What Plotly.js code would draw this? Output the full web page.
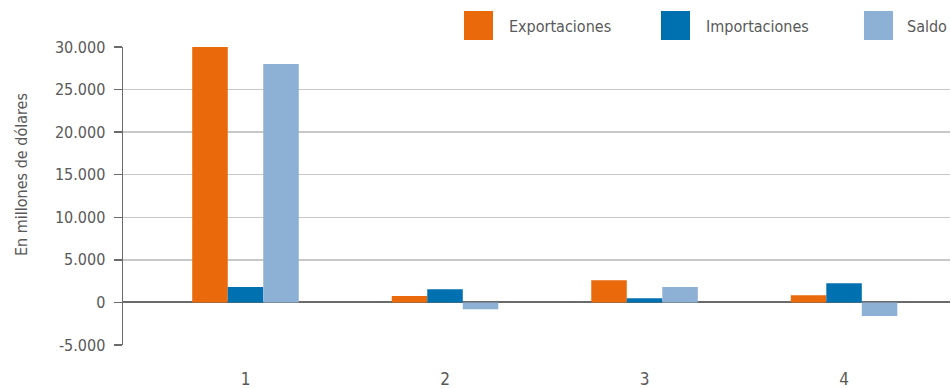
<!DOCTYPE html>
<html>
<head>
<meta charset="utf-8">
<script src="https://cdn.plot.ly/plotly-3.0.1.min.js"></script>
<style>html,body{margin:0;padding:0;background:#fff;}#chart{width:951px;height:388px;}</style>
</head>
<body>
<div id="chart"></div>
<script>
const categories = [1, 2, 3, 4];
const tickLabels = ['1', '2', '3', '4'];
const exportaciones = [30000, 750, 2600, 850];
const importaciones = [1800, 1550, 500, 2250];
const saldo = [28000, -800, 1800, -1600];
const seriesNames = ['Exportaciones', 'Importaciones', 'Saldo'];
const seriesColors = ['#EA690B', '#0071B0', '#8DB0D5'];
const yTitle = 'En millones de dólares';

const W = 951, H = 388;
const M = {l: 123, r: 1, t: 47, b: 43};
const FONT = 'Liberation Sans Narrow, DejaVu Sans Condensed, Arial Narrow, sans-serif';
const TXT = '#595959';

const px = x => (x - M.l) / (W - M.l - M.r);
const py = y => (H - M.b - y) / (H - M.t - M.b);

const traces = [exportaciones, importaciones, saldo].map((vals, i) => ({
  type: 'bar',
  x: categories,
  y: vals,
  name: seriesNames[i],
  marker: {color: seriesColors[i], line: {width: 0}},
  showlegend: false,
  hoverinfo: 'x+y+name'
}));

// Manual legend (large squares)
const legendItems = [
  {sq: 464, tx: 507},
  {sq: 661, tx: 704},
  {sq: 864, tx: 905}
];
const shapes = [];
const annotations = [];
legendItems.forEach((it, i) => {
  shapes.push({type: 'rect', xref: 'paper', yref: 'paper',
    x0: px(it.sq), x1: px(it.sq + 29), y0: py(40), y1: py(11),
    fillcolor: seriesColors[i], line: {width: 0}});
  annotations.push({xref: 'paper', yref: 'paper', x: px(it.tx), y: py(26),
    xanchor: 'left', yanchor: 'middle', showarrow: false,
    text: seriesNames[i], font: {family: FONT, size: 16, color: TXT}});
});
annotations.push({xref: 'paper', yref: 'paper', x: px(21), y: py(175),
  xanchor: 'center', yanchor: 'middle', showarrow: false, textangle: -90,
  text: yTitle, font: {family: FONT, size: 16, color: TXT}});

const layout = {
  width: W, height: H,
  margin: M,
  paper_bgcolor: '#fff', plot_bgcolor: '#fff',
  barmode: 'group',
  bargap: 0.466,
  bargroupgap: 0,
  showlegend: false,
  font: {family: FONT, size: 16, color: TXT},
  xaxis: {
    type: 'linear',
    range: [0.386, 4.531],
    tickvals: categories,
    ticktext: tickLabels,
    showgrid: false,
    zeroline: false,
    showline: false,
    ticks: '',
    tickfont: {family: FONT, size: 17, color: TXT},
    ticklabelstandoff: 22
  },
  yaxis: {
    range: [-5000, 30000],
    tickvals: [-5000, 0, 5000, 10000, 15000, 20000, 25000, 30000],
    ticktext: ['-5.000', '0', '5.000', '10.000', '15.000', '20.000', '25.000', '30.000'],
    showgrid: true,
    gridcolor: '#C8C8C8',
    gridwidth: 1.5,
    zeroline: true,
    zerolinecolor: '#6A6A6A',
    zerolinewidth: 2,
    showline: true,
    linecolor: '#6A6A6A',
    linewidth: 1.5,
    ticks: 'outside',
    ticklen: 8,
    tickcolor: '#6A6A6A',
    tickwidth: 1.5,
    ticklabelstandoff: 5,
    tickfont: {family: FONT, size: 16, color: TXT}
  },
  shapes: shapes,
  annotations: annotations
};

Plotly.newPlot('chart', traces, layout, {displayModeBar: false, staticPlot: true});
</script>
</body>
</html>
